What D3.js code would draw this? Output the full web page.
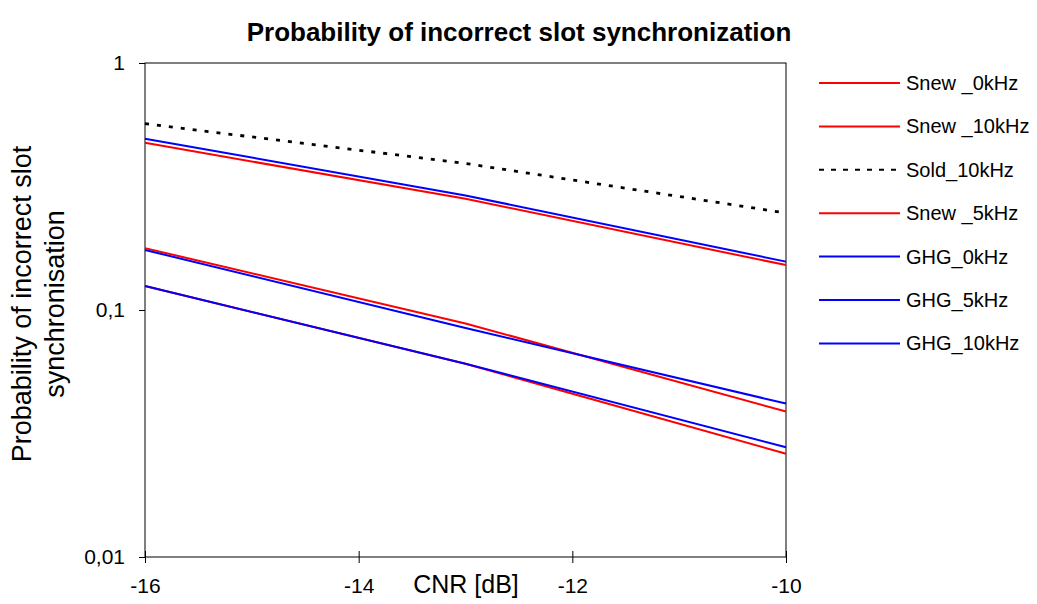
<!DOCTYPE html>
<html><head><meta charset="utf-8">
<script src="https://cdn.jsdelivr.net/npm/d3@7"></script>
<style>body{margin:0;background:#fff}text{font-family:"Liberation Sans",Arial,sans-serif}</style>
</head><body><svg id="c" width="1037" height="604"></svg>
<script>
const cnr = [-16, -13, -10];
const snew0  = [0.125, 0.0606, 0.0262];
const snew10 = [0.475, 0.282, 0.152];
const sold10 = [0.568, 0.392, 0.247];
const snew5  = [0.178, 0.0882, 0.0388];
const ghg0   = [0.125, 0.0606, 0.0278];
const ghg5   = [0.175, 0.0845, 0.0418];
const ghg10  = [0.494, 0.291, 0.157];
const seriesNames = ["Snew _0kHz","Snew _10kHz","Sold_10kHz","Snew _5kHz","GHG_0kHz","GHG_5kHz","GHG_10kHz"];
const seriesVals = [snew0, snew10, sold10, snew5, ghg0, ghg5, ghg10];
const seriesColors = ["#ff0000","#ff0000","#000000","#ff0000","#0000ff","#0000ff","#0000ff"];
const seriesDash = [null,null,"4,8",null,null,null,null];
const xTicks = [-16,-14,-12,-10];
const yTicks = [1,0.1,0.01];
const yTickLabels = ["1","0,1","0,01"];
const titleText = "Probability of incorrect slot synchronization";
const xTitle = "CNR [dB]";
const yTitleLines = ["Probability of incorrect slot","synchronisation"];

const svg = d3.select("#c");
const L=145,R=786,T=63,B=557;
const x = d3.scaleLinear().domain([-16,-10]).range([L,R]);
const y = d3.scaleLog().domain([0.01,1]).range([B,T]);

// frame
svg.append("rect").attr("x",L).attr("y",T).attr("width",R-L).attr("height",B-T)
  .attr("fill","none").attr("stroke","#000").attr("stroke-width",1);

// y axis
const ya = svg.append("g").attr("transform",`translate(${L},0)`)
  .call(d3.axisLeft(y).tickValues(yTicks).tickFormat((d,i)=>yTickLabels[i]).tickSize(6).tickPadding(14));
ya.select(".domain").remove();
ya.selectAll("text").attr("font-size",21).attr("fill","#000").attr("font-family","Liberation Sans, Arial, sans-serif");

// x axis
const xa = svg.append("g").attr("transform",`translate(0,${B})`)
  .call(d3.axisBottom(x).tickValues(xTicks).tickFormat(d=>d).tickSize(6).tickPadding(15));
xa.select(".domain").remove();
xa.selectAll(".tick line").attr("y1",-6);
xa.selectAll("text").attr("font-size",21).attr("fill","#000").attr("font-family","Liberation Sans, Arial, sans-serif");

// lines
const line = d3.line().x((d,i)=>x(cnr[i])).y(d=>y(d));
seriesVals.forEach((v,k)=>{
  svg.append("path").datum(v).attr("d",line).attr("fill","none")
    .attr("stroke",seriesColors[k]).attr("stroke-width",seriesDash[k]?2.8:2)
    .attr("stroke-dasharray",seriesDash[k]);
});

// legend
seriesNames.forEach((n,k)=>{
  const yy = 83 + k*43.4;
  svg.append("line").attr("x1",819).attr("x2",900).attr("y1",yy).attr("y2",yy)
    .attr("stroke",seriesColors[k]).attr("stroke-width",2).attr("stroke-dasharray",seriesDash[k]?"5,7":null);
  svg.append("text").attr("x",906).attr("y",yy).attr("dy","0.35em").attr("font-size",20).text(n);
});

// titles
svg.append("text").attr("x",519).attr("y",32).attr("dy","0.35em").attr("text-anchor","middle")
  .attr("font-size",26).attr("font-weight","bold").text(titleText);
svg.append("text").attr("x",466).attr("y",584).attr("dy","0.35em").attr("text-anchor","middle")
  .attr("font-size",25).text(xTitle);
yTitleLines.forEach((t,i)=>{
  svg.append("text").attr("transform",`translate(${22+i*33},304) rotate(-90)`)
    .attr("dy","0.35em").attr("text-anchor","middle").attr("font-size",27).text(t);
});
</script></body></html>
